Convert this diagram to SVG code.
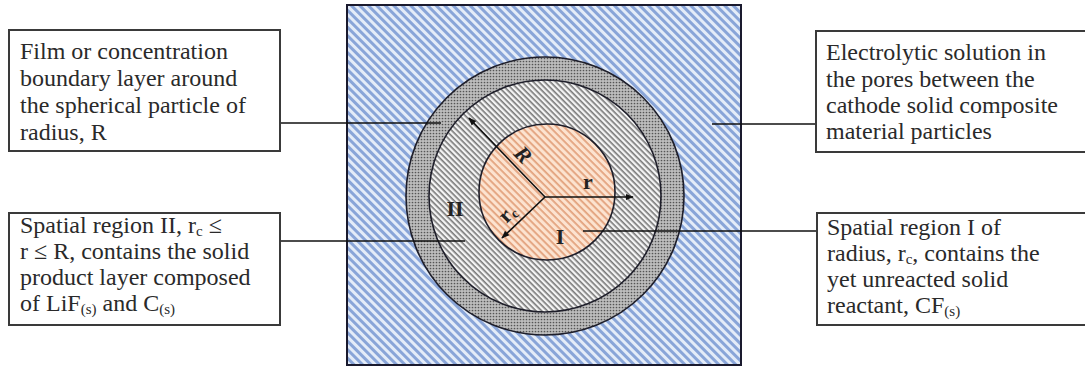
<svg xmlns="http://www.w3.org/2000/svg" width="1085" height="372" viewBox="0 0 1085 372">
<style>
.box{fill:#fff;stroke:#3a3a3a;stroke-width:2}
.t{font-family:"Liberation Serif","Times New Roman",serif;font-size:24px;fill:#2a2a2a}
.sub{font-size:15px}
.lbl{font-family:"Liberation Serif","Times New Roman",serif;font-size:22px;font-weight:bold;fill:#222}
.lead{stroke:#111;stroke-width:1.6;fill:none}
.circ{stroke:#1e1e2a;stroke-width:1.6}
.rad{stroke:#111;stroke-width:1.6;fill:none}
</style>
<defs>
<pattern id="pBlue" width="6" height="6" patternUnits="userSpaceOnUse" patternTransform="rotate(45)">
<rect width="6" height="6" fill="#e4ecf8"/>
<rect width="6" height="3" fill="#89a5d8"/>
</pattern>
<pattern id="pGray" width="4" height="4" patternUnits="userSpaceOnUse" patternTransform="rotate(45)">
<rect width="4" height="4" fill="#f4f4f4"/>
<rect width="4" height="1.6" fill="#777777"/>
</pattern>
<pattern id="pPeach" width="5" height="5" patternUnits="userSpaceOnUse" patternTransform="rotate(45)">
<rect width="5" height="5" fill="#fce3d0"/>
<rect width="5" height="1.8" fill="#e3a27e"/>
</pattern>
<pattern id="pDots" width="3" height="3" patternUnits="userSpaceOnUse">
<rect width="3" height="3" fill="#bdbdbd"/>
<circle cx="1.5" cy="1.5" r="0.85" fill="#555555"/>
</pattern>
<marker id="ah" viewBox="0 0 10 10" refX="9" refY="5" markerWidth="5" markerHeight="5" orient="auto">
<path d="M0,1 L10,5 L0,9 z" fill="#111"/>
</marker>
</defs>

<g id="domain">
<rect x="347" y="5" width="394" height="360" fill="url(#pBlue)" stroke="#1a1a2e" stroke-width="2"/>
</g>
<g id="film">
<circle class="circ" cx="545" cy="196" r="139" fill="url(#pDots)"/>
</g>
<g id="region2">
<circle class="circ" cx="545" cy="196" r="116" fill="url(#pGray)"/>
<text class="lbl" x="455" y="216" text-anchor="middle">II</text>
</g>
<g id="region1">
<circle class="circ" cx="547" cy="192" r="68" fill="url(#pPeach)"/>
<text class="lbl" x="560" y="244" text-anchor="middle">I</text>
</g>

<g id="radii">
<line class="rad" x1="545" y1="197" x2="469" y2="118" marker-end="url(#ah)"/>
<line class="rad" x1="545" y1="197" x2="633" y2="197" marker-end="url(#ah)"/>
<line class="rad" x1="545" y1="197" x2="502" y2="238" marker-end="url(#ah)"/>
<text class="lbl" font-style="italic" transform="translate(523,155) rotate(46)" text-anchor="middle" dy="7">R</text>
<text class="lbl" x="588" y="189" text-anchor="middle">r</text>
<text class="lbl" transform="translate(508,214) rotate(-45)" text-anchor="middle" dy="6" font-size="20">r<tspan font-size="14" dy="3">c</tspan></text>
</g>

<g id="connectors">
<line class="lead" x1="280" y1="123" x2="441" y2="123"/>
<line class="lead" x1="280" y1="241" x2="465" y2="241"/>
<line class="lead" x1="712" y1="124" x2="816" y2="124"/>
<line class="lead" x1="583" y1="231" x2="817" y2="231"/>
</g>

<g id="box-film">
<rect class="box" x="9" y="30" width="271" height="121"/>
<text class="t" x="20" y="59">Film or concentration</text>
<text class="t" x="20" y="86">boundary layer around</text>
<text class="t" x="20" y="113">the spherical particle of</text>
<text class="t" x="20" y="140">radius, R</text>
</g>

<g id="box-electrolyte">
<rect class="box" x="816" y="31" width="272" height="121"/>
<text class="t" x="826" y="60">Electrolytic solution in</text>
<text class="t" x="826" y="87">the pores between the</text>
<text class="t" x="826" y="113">cathode solid composite</text>
<text class="t" x="826" y="139">material particles</text>
</g>

<g id="box-region2">
<rect class="box" x="9" y="213" width="271" height="112"/>
<text class="t" x="20" y="233">Spatial region II, r<tspan class="sub" dy="3">c</tspan><tspan dy="-3"> ≤</tspan></text>
<text class="t" x="20" y="259">r ≤ R, contains the solid</text>
<text class="t" x="20" y="285">product layer composed</text>
<text class="t" x="20" y="311">of LiF<tspan class="sub" dy="3">(s)</tspan><tspan dy="-3"> and C</tspan><tspan class="sub" dy="3">(s)</tspan></text>
</g>

<g id="box-region1">
<rect class="box" x="817" y="213" width="271" height="112"/>
<text class="t" x="827" y="235">Spatial region I of</text>
<text class="t" x="827" y="261">radius, r<tspan class="sub" dy="3">c</tspan><tspan dy="-3">, contains the</tspan></text>
<text class="t" x="827" y="287">yet unreacted solid</text>
<text class="t" x="827" y="313">reactant, CF<tspan class="sub" dy="3">(s)</tspan></text>
</g>
</svg>
